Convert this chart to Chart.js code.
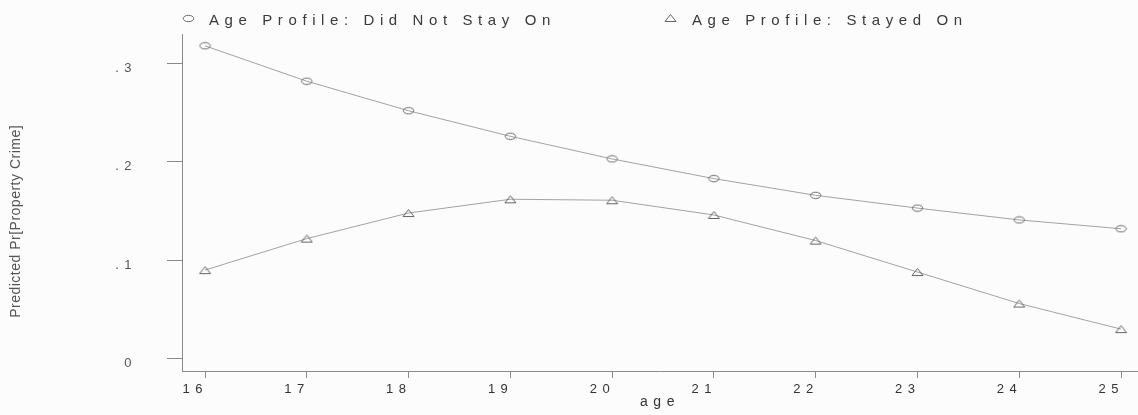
<!DOCTYPE html>
<html>
<head>
<meta charset="utf-8">
<title>Age profiles of predicted property crime</title>
<script src="https://cdn.jsdelivr.net/npm/chart.js@4.4.1/dist/chart.umd.min.js"></script>
<style>
  html, body { margin: 0; padding: 0; background: #fcfcfc; }
  canvas { display: block; }
</style>
</head>
<body>
<canvas id="chart" width="1138" height="415"></canvas>
<script>
// Ages on the horizontal axis
const ages = [16, 17, 18, 19, 20, 21, 22, 23, 24, 25];

// Predicted probability of property crime by age
const didNotStayOn = [0.318, 0.282, 0.252, 0.226, 0.203, 0.183, 0.166, 0.153, 0.141, 0.132];
const stayedOn     = [0.090, 0.122, 0.148, 0.162, 0.161, 0.146, 0.120, 0.088, 0.056, 0.030];

const seriesLabels = ['Age Profile: Did Not Stay On', 'Age Profile: Stayed On'];

// Axis ticks and titles
const xTickValues = [16, 17, 18, 19, 20, 21, 22, 23, 24, 25];
const yTickValues = [0, 0.1, 0.2, 0.3];
const yTickLabels = ['0', '.1', '.2', '.3'];
const xTitle = 'age';
const yTitle = 'Predicted Pr[Property Crime]';

const FONT = '"Liberation Sans", Arial, Helvetica, sans-serif';
const AXIS_GREY = '#8a8a8a';
const LINE_GREY = '#a2a2a2';
const MARK_GREY = '#666666';

// Hollow, slightly flattened markers
function ellipseMarker() {
  const c = document.createElement('canvas');
  c.width = 13; c.height = 9;
  const g = c.getContext('2d');
  g.strokeStyle = MARK_GREY;
  g.lineWidth = 1;
  g.beginPath();
  g.ellipse(6.5, 4.5, 5.2, 3.2, 0, 0, Math.PI * 2);
  g.stroke();
  return c;
}
function triangleMarker() {
  const c = document.createElement('canvas');
  c.width = 13; c.height = 10;
  const g = c.getContext('2d');
  g.strokeStyle = MARK_GREY;
  g.lineWidth = 1;
  g.beginPath();
  g.moveTo(1, 8.5);
  g.lineTo(6.5, 1.5);
  g.lineTo(12, 8.5);
  g.closePath();
  g.stroke();
  return c;
}
const circleImg = ellipseMarker();
const triangleImg = triangleMarker();

// Wide letter spacing for all axis text
const spacedText = {
  id: 'spacedText',
  beforeUpdate(chart) { chart.ctx.letterSpacing = '5.5px'; },
  beforeLayout(chart) { chart.ctx.letterSpacing = '5.5px'; },
  beforeDraw(chart) { chart.ctx.letterSpacing = '5.5px'; }
};

// One-row legend across the top
const seriesLegend = {
  id: 'seriesLegend',
  afterDraw(chart) {
    const ctx = chart.ctx;
    ctx.save();
    ctx.font = '15px ' + FONT;
    ctx.letterSpacing = '5.6px';
    ctx.fillStyle = '#3a3a3a';
    ctx.textAlign = 'left';
    ctx.textBaseline = 'alphabetic';
    let x = chart.chartArea.left + 6;
    const markerY = 18;
    const baseY = 25;
    chart.data.datasets.forEach(ds => {
      const img = ds.pointStyle;
      ctx.drawImage(img, Math.round(x - img.width / 2), Math.round(markerY - img.height / 2));
      ctx.fillText(ds.label, x + 21, baseY);
      x += 21 + ctx.measureText(ds.label).width + 115;
    });
    ctx.restore();
  }
};

// Vertical axis title, set tighter than the rest of the text
const yAxisTitle = {
  id: 'yAxisTitle',
  afterDraw(chart) {
    const ctx = chart.ctx;
    const area = chart.chartArea;
    ctx.save();
    ctx.font = '14px ' + FONT;
    ctx.letterSpacing = '0.5px';
    ctx.fillStyle = '#555';
    ctx.textAlign = 'center';
    ctx.textBaseline = 'middle';
    ctx.translate(16, area.top + (area.bottom - area.top) * 0.556);
    ctx.rotate(-Math.PI / 2);
    ctx.fillText(yTitle, 0, 0);
    ctx.restore();
  }
};

const toPoints = vals => ages.map((a, i) => ({ x: a, y: vals[i] }));

new Chart(document.getElementById('chart'), {
  type: 'line',
  data: {
    datasets: [
      {
        label: seriesLabels[0],
        data: toPoints(didNotStayOn),
        borderColor: LINE_GREY,
        borderWidth: 1,
        pointStyle: circleImg,
        pointRadius: 5,
        tension: 0,
        fill: false
      },
      {
        label: seriesLabels[1],
        data: toPoints(stayedOn),
        borderColor: LINE_GREY,
        borderWidth: 1,
        pointStyle: triangleImg,
        pointRadius: 5,
        tension: 0,
        fill: false
      }
    ]
  },
  options: {
    responsive: false,
    animation: false,
    devicePixelRatio: 1,
    layout: { autoPadding: false, padding: { top: 34, left: 0, right: 0, bottom: 0 } },
    plugins: {
      legend: { display: false },
      tooltip: { enabled: false }
    },
    scales: {
      x: {
        type: 'linear',
        min: 15.774,
        max: 25.167,
        afterFit(scale) {
          scale.height = 44;
          scale.paddingLeft = 0;
          scale.paddingRight = 0;
        },
        afterBuildTicks(scale) { scale.ticks = xTickValues.map(v => ({ value: v })); },
        ticks: {
          align: 'end',
          labelOffset: 3,
          padding: 4,
          color: '#333',
          font: { family: FONT, size: 13 },
          callback: v => String(v)
        },
        grid: { drawOnChartArea: false, drawTicks: true, tickLength: 7, color: AXIS_GREY },
        border: { color: AXIS_GREY, width: 1 },
        title: {
          display: true,
          text: xTitle,
          color: '#333',
          font: { family: FONT, size: 14 },
          padding: { top: 0, bottom: 4 }
        }
      },
      y: {
        min: -0.0126,
        max: 0.33,
        afterFit(scale) {
          scale.width = 182;
          scale.paddingTop = 0;
          scale.paddingBottom = 0;
        },
        afterBuildTicks(scale) { scale.ticks = yTickValues.map(v => ({ value: v })); },
        ticks: {
          padding: 30,
          labelOffset: 5,
          color: '#555',
          font: { family: FONT, size: 13 },
          callback: (v, i) => yTickLabels[i]
        },
        grid: { drawOnChartArea: false, drawTicks: true, tickLength: 15, color: AXIS_GREY },
        border: { color: AXIS_GREY, width: 1 }
      }
    }
  },
  plugins: [spacedText, seriesLegend, yAxisTitle]
});
</script>
</body>
</html>
